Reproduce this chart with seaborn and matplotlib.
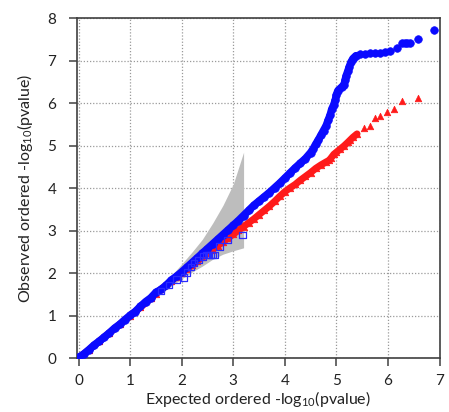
import numpy as np
import pandas as pd
import matplotlib
matplotlib.use("Agg")
import matplotlib.pyplot as plt
import seaborn as sns

# ---- data ----
blue_x = [0.0, 0.1, 0.2, 0.3, 0.4, 0.5, 0.6, 0.7, 0.8, 0.9, 1.0, 1.1, 1.2, 1.3, 1.4,
          1.5, 1.6, 1.7, 1.8, 1.9, 2.0, 2.1, 2.2, 2.3, 2.4, 2.5, 2.6, 2.7, 2.8, 2.9,
          3.0, 3.1, 3.2, 3.3, 3.4, 3.5, 3.6, 3.7, 3.8, 3.9, 4.0, 4.1, 4.2, 4.3, 4.4,
          4.5, 4.55, 4.6, 4.65, 4.7, 4.75, 4.8, 4.84, 4.88, 4.91, 4.95, 4.98, 5.0,
          5.03, 5.1, 5.15, 5.17, 5.19, 5.22, 5.25, 5.28, 5.32, 5.38, 5.45, 5.55,
          5.65, 5.75, 5.85, 5.95, 6.04, 6.17, 6.27, 6.32, 6.37, 6.43, 6.59, 6.89]
blue_y = [0.02, 0.1, 0.2, 0.31, 0.4, 0.5, 0.6, 0.71, 0.8, 0.91, 1.01, 1.1, 1.22, 1.33, 1.42,
          1.55, 1.62, 1.72, 1.84, 1.93, 2.03, 2.14, 2.25, 2.36, 2.47, 2.58, 2.69, 2.8, 2.91, 3.02,
          3.13, 3.24, 3.36, 3.48, 3.6, 3.7, 3.8, 3.9, 4.01, 4.12, 4.24, 4.36, 4.48, 4.59, 4.7,
          4.84, 4.93, 5.04, 5.14, 5.25, 5.36, 5.47, 5.6, 5.73, 5.86, 5.97, 6.08, 6.2,
          6.3, 6.38, 6.44, 6.55, 6.65, 6.75, 6.86, 6.96, 7.05, 7.12, 7.16, 7.17,
          7.18, 7.19, 7.19, 7.2, 7.22, 7.29, 7.41, 7.42, 7.43, 7.43, 7.51, 7.72]

red_x = [0.0, 0.2, 0.4, 0.6, 0.8, 1.0, 1.2, 1.4, 1.5, 1.6, 1.7, 1.8, 1.9, 2.0, 2.1, 2.2,
         2.3, 2.4, 2.5, 2.6, 2.7, 2.8, 2.9, 3.0, 3.1, 3.2, 3.3, 3.4, 3.5, 3.6, 3.7, 3.8,
         3.9, 4.0, 4.1, 4.2, 4.3, 4.4, 4.5, 4.6, 4.7, 4.8, 4.86, 4.9, 4.95, 5.0, 5.07,
         5.15, 5.22, 5.27, 5.32, 5.4, 5.53, 5.66, 5.75, 5.85, 5.98, 6.11, 6.27, 6.58]
red_y = [0.0, 0.2, 0.4, 0.6, 0.8, 1.0, 1.2, 1.41, 1.52, 1.62, 1.72, 1.82, 1.92, 2.01, 2.1, 2.19,
         2.28, 2.38, 2.47, 2.56, 2.65, 2.74, 2.83, 2.92, 3.01, 3.1, 3.19, 3.28, 3.38, 3.48, 3.58, 3.69,
         3.81, 3.92, 4.01, 4.09, 4.19, 4.28, 4.37, 4.47, 4.55, 4.62, 4.66, 4.72, 4.8, 4.85, 4.92,
         5.0, 5.08, 5.14, 5.2, 5.28, 5.41, 5.47, 5.66, 5.71, 5.8, 5.86, 6.05, 6.13]

sq_x = [1.6, 1.75, 1.9, 2.04, 2.1, 2.18, 2.24, 2.33, 2.41, 2.48, 2.52, 2.56, 2.6, 2.64,
        2.73, 2.89, 3.18]
sq_y = [1.58, 1.72, 1.85, 1.90, 2.02, 2.15, 2.24, 2.31, 2.39, 2.43, 2.43, 2.43, 2.43, 2.43,
        2.63, 2.78, 2.90]

band_x = [1.4, 1.6, 1.8, 2.0, 2.2, 2.4, 2.6, 2.8, 3.0, 3.2]
band_hi = [1.45, 1.7, 1.95, 2.22, 2.5, 2.8, 3.18, 3.6, 4.1, 4.85]
band_lo = [1.35, 1.52, 1.70, 1.87, 2.03, 2.17, 2.33, 2.45, 2.53, 2.6]

x_ticks = [0, 1, 2, 3, 4, 5, 6, 7]
y_ticks = [0, 1, 2, 3, 4, 5, 6, 7, 8]

# ---- plot ----
sns.set_theme(style="white")
plt.rcParams['font.family'] = ['Lato', 'DejaVu Sans']
plt.rcParams['mathtext.fontset'] = 'custom'
plt.rcParams['mathtext.rm'] = 'Lato'
plt.rcParams['mathtext.it'] = 'Lato'

fig = plt.figure(figsize=(4.49, 4.12), dpi=100)
ax = fig.add_axes([0.1715, 0.1303, 0.979 - 0.1715, 0.9556 - 0.1303])

ax.fill_between(band_x, band_lo, band_hi, color="#bdbdbd", linewidth=0, zorder=1)

red = pd.DataFrame({"x": red_x, "y": red_y})
blue = pd.DataFrame({"x": blue_x, "y": blue_y})
sq = pd.DataFrame({"x": sq_x, "y": sq_y})

n_dense_red = 52
sns.lineplot(data=red.iloc[:n_dense_red], x="x", y="y", color="#ff1a1a", linewidth=5,
             ax=ax, zorder=2, sort=False)
sns.scatterplot(data=red, x="x", y="y", marker="^", color="#ff1a1a", s=22,
                edgecolor="#ff1a1a", linewidth=0.5, ax=ax, zorder=3)
n_dense_blue = 68
sns.lineplot(data=blue.iloc[:n_dense_blue], x="x", y="y", color="#0a0aff", linewidth=5.5,
             ax=ax, zorder=4, sort=False)
sns.scatterplot(data=blue, x="x", y="y", marker="o", color="#0a0aff", s=30,
                edgecolor="#0a0aff", linewidth=0.5, ax=ax, zorder=5)
sns.scatterplot(data=sq, x="x", y="y", marker="s", facecolor="none",
                edgecolor="#2a2aff", s=22, linewidth=0.9, ax=ax, zorder=6)

ax.set_xlim(-0.03, 7)
ax.set_ylim(0, 8)
ax.set_xticks(x_ticks)
ax.set_yticks(y_ticks)
ax.grid(True, color="#9a9a9a", linestyle=(0, (1, 1.5)), linewidth=0.9)
ax.set_axisbelow(True)

for side in ["left", "bottom", "top", "right"]:
    ax.spines[side].set_visible(True)
    ax.spines[side].set_color("#404040")
    ax.spines[side].set_linewidth(1.2)

ax.tick_params(axis="both", direction="out", length=6, width=1.1, color="#404040",
               labelsize=11, labelcolor="#222222", bottom=True, left=True)
ax.tick_params(axis="y", pad=9)
ax.tick_params(axis="x", pad=5)

ax.set_xlabel("Expected ordered -log$_{10}$(pvalue)", fontsize=11.5, color="#222222", labelpad=1)
ax.set_ylabel("Observed ordered -log$_{10}$(pvalue)", fontsize=11.5, color="#222222", labelpad=9)

fig.savefig("out.png", dpi=100)
